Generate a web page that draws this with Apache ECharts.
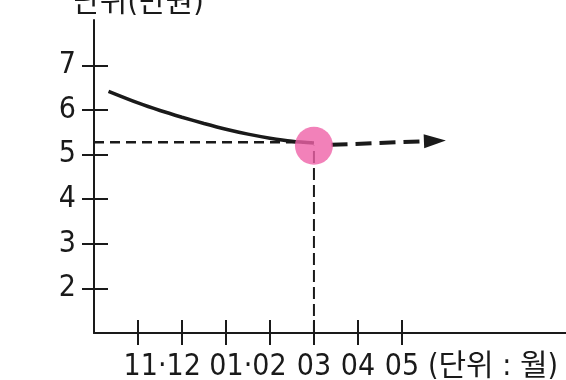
<!DOCTYPE html>
<html>
<head>
<meta charset="utf-8">
<script src="https://cdn.jsdelivr.net/npm/echarts@6/dist/echarts.min.js"></script>
<style>html,body{margin:0;padding:0;background:#fff}#c{width:566px;height:380px}</style>
</head>
<body>
<div id="c"></div>
<script>
// ---- data ----
const yTicks = [2, 3, 4, 5, 6, 7];
const xTicks = [1, 2, 3, 4, 5, 6, 7];
const xLabelPos = [1.55, 3.5, 5, 6, 7, 9.07];
const xLabelText = ['11·12', '01·02', '03', '04', '05', '(단위 : 월)'];
const yAxisName = '단위(만원)';
const trendCurve = [[0.33, 6.42], [1, 6.16], [1.5, 5.99], [2, 5.84], [2.5, 5.7], [3, 5.57], [3.5, 5.46], [4, 5.37], [4.5, 5.3], [5, 5.26]];
const refLevel = 5.28;
const pointValue = [5, 5.2];
const forecastStart = [5.4, 5.22];
const forecastEnd = [7.75, 5.31];

const FONT = "'Liberation Sans Narrow', 'DejaVu Sans Condensed', 'Noto Sans CJK KR', sans-serif";
const INK = '#1a1a1a';

function xLabel(v) {
  for (let i = 0; i < xLabelPos.length; i++) if (Math.abs(xLabelPos[i] - v) < 1e-6) return xLabelText[i];
  return '';
}

const chart = echarts.init(document.getElementById('c'));
chart.setOption({
  animation: false,
  grid: { left: 94, top: 20, right: 0, bottom: 47, containLabel: false, outerBoundsMode: 'none' },
  xAxis: [{
    type: 'value', min: 0, max: 10.73, position: 'bottom',
    splitLine: { show: false },
    axisLine: { show: true, lineStyle: { color: INK, width: 2 } },
    axisTick: { show: true, length: 12, customValues: xTicks, lineStyle: { color: INK, width: 2 } },
    axisLabel: { show: true, customValues: xLabelPos, formatter: xLabel, margin: 19,
      color: INK, fontSize: 30, fontFamily: FONT }
  }, {
    type: 'value', min: 0, max: 10.73, position: 'bottom',
    splitLine: { show: false },
    axisLine: { show: false },
    axisTick: { show: true, inside: true, length: 13, customValues: xTicks, lineStyle: { color: INK, width: 2 } },
    axisLabel: { show: false }
  }],
  yAxis: [{
    type: 'value', min: 1, max: 8.02, position: 'left',
    splitLine: { show: false },
    axisLine: { show: true, lineStyle: { color: INK, width: 2 } },
    axisTick: { show: true, length: 12, customValues: yTicks, lineStyle: { color: INK, width: 2 } },
    axisLabel: { show: true, customValues: yTicks, margin: 18, color: INK, fontSize: 30, fontFamily: FONT },
    name: yAxisName, nameLocation: 'end', nameGap: 2,
    nameTextStyle: { color: INK, fontSize: 30, fontFamily: FONT, align: 'center', padding: [0, 0, 0, 88] }
  }, {
    type: 'value', min: 1, max: 8.02, position: 'left',
    splitLine: { show: false },
    axisLine: { show: false },
    axisTick: { show: true, inside: true, length: 14, customValues: yTicks, lineStyle: { color: INK, width: 2 } },
    axisLabel: { show: false }
  }],
  series: [{
    type: 'line', data: [[0, refLevel], [pointValue[0], refLevel]],
    symbol: 'none', lineStyle: { color: INK, width: 2.5, type: [10, 6] }, z: 2
  }, {
    type: 'line', data: [[pointValue[0], 1], pointValue],
    symbol: 'none', lineStyle: { color: INK, width: 2, type: [12, 5] }, z: 2
  }, {
    type: 'line', data: trendCurve, smooth: 0.3,
    symbol: 'none', lineStyle: { color: INK, width: 3.5 }, z: 3,
    markLine: {
      silent: true, symbol: ['none', 'triangle'], symbolSize: [14, 22],
      label: { show: false },
      lineStyle: { color: INK, width: 4, type: [16, 8] },
      data: [[{ coord: forecastStart }, { coord: forecastEnd }]]
    }
  }, {
    type: 'scatter', data: [pointValue], symbolSize: 38,
    itemStyle: { color: '#ef62a8' }, z: 5
  }]
});
</script>
</body>
</html>
